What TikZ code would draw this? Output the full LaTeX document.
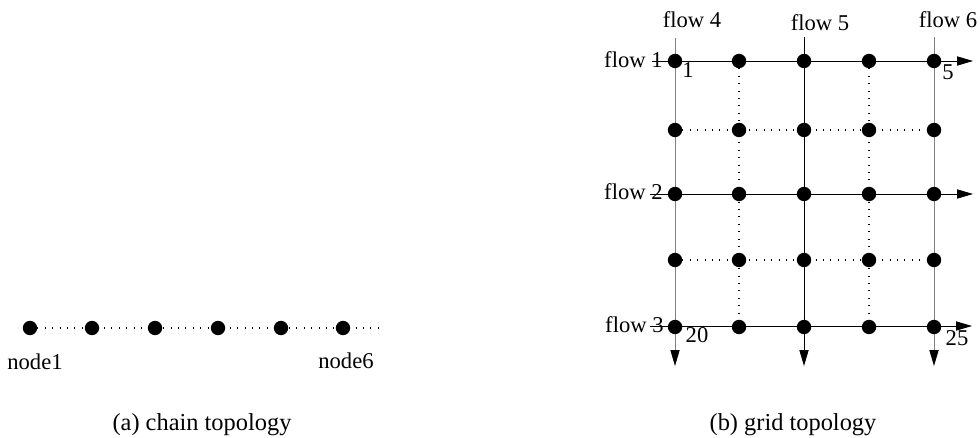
\documentclass[tikz,border=0pt]{standalone}
\usepackage{fontspec}
\setmainfont{Liberation Serif}
\usetikzlibrary{arrows.meta}
\begin{document}
\begin{tikzpicture}[x=0.5pt,y=-0.5pt,
  dot/.style={circle,fill=black,inner sep=0pt,minimum size=7.2pt},
  solidline/.style={line width=0.45pt,draw=black},
  grayline/.style={line width=0.5pt,draw=black!50},
  dotline/.style={line width=0.6pt,dash pattern=on 0.5pt off 3.2pt},
  arr/.style={-{Triangle[length=8pt,width=4.6pt,color=black]}},
  lbl/.style={font=\fontsize{11.3}{13}\selectfont,inner sep=0pt},
  captext/.style={font=\fontsize{12.2}{14}\selectfont,inner sep=0pt},
]
\useasboundingbox (0,0) rectangle (980,438);
% ---------- chain ----------
\foreach \i/\x in {1/30,2/92,3/155,4/218,5/281,6/343}{
  \coordinate (c\i) at (\x,328);
}
\coordinate (cend) at (381,328);
\draw[dotline] (c1) -- (c2) -- (c3) -- (c4) -- (c5) -- (c6) -- (cend);
\foreach \i in {1,...,6}{ \node[dot] (n\i) at (c\i) {}; }
\node[lbl,anchor=base] (lnode1) at (35,370) {node1};
\node[lbl,anchor=base] (lnode6) at (346,368) {node6};
\node[captext,anchor=base] (capa) at (202,430) {(a) chain topology};
% ---------- grid ----------
\foreach \c/\x in {1/675,2/739,3/804,4/869,5/934}{
  \foreach \r/\y in {1/61,2/130,3/194,4/260,5/327}{
    \coordinate (g\r\c) at (\x,\y);
  }
}
% flow start/end coordinates
\coordinate (f1s) at (652,61);  \coordinate (f1e) at (973,61);
\coordinate (f2s) at (650,194); \coordinate (f2e) at (973,194);
\coordinate (f3s) at (650,326); \coordinate (f3e) at (972,326);
\coordinate (f4s) at (675,38);  \coordinate (f4e) at (675,366);
\coordinate (f5s) at (804,37);  \coordinate (f5e) at (804,366);
\coordinate (f6s) at (934,37);  \coordinate (f6e) at (934,366);
% dotted lines
\draw[dotline] (g21) -- (g22) -- (g23) -- (g24) -- (g25);
\draw[dotline] (g41) -- (g42) -- (g43) -- (g44) -- (g45);
\draw[dotline] (g12) -- (g22) -- (g32) -- (g42) -- (g52);
\draw[dotline] (g14) -- (g24) -- (g34) -- (g44) -- (g54);
% solid flows
\draw[solidline,arr] (f1s) -- (f1e);
\draw[solidline,arr] (f2s) -- (f2e);
\draw[solidline,arr] (f3s) -- (f3e);
\draw[grayline,arr] (f4s) -- (f4e);
\draw[solidline,arr] (f5s) -- (f5e);
\draw[grayline,arr] (f6s) -- (f6e);
% dots
\foreach \r in {1,...,5}{
  \foreach \c in {1,...,5}{
    \node[dot] (d\r\c) at (g\r\c) {};
  }
}
% labels
\node[lbl,anchor=base east] (lf1) at (663,68) {flow 1};
\node[lbl,anchor=base east] (lf2) at (663,200) {flow 2};
\node[lbl,anchor=base east] (lf3) at (664,333) {flow 3};
\node[lbl,anchor=base] (lf4) at (692,28) {flow 4};
\node[lbl,anchor=base] (lf5) at (820,31) {flow 5};
\node[lbl,anchor=base] (lf6) at (948,28) {flow 6};
\node[lbl,anchor=base] (l1) at (688,78) {1};
\node[lbl,anchor=base] (l5) at (948,80) {5};
\node[lbl,anchor=base] (l20) at (697,343) {20};
\node[lbl,anchor=base] (l25) at (957,345) {25};
\node[captext,anchor=base] (capb) at (793,430) {(b) grid topology};
\end{tikzpicture}
\end{document}
